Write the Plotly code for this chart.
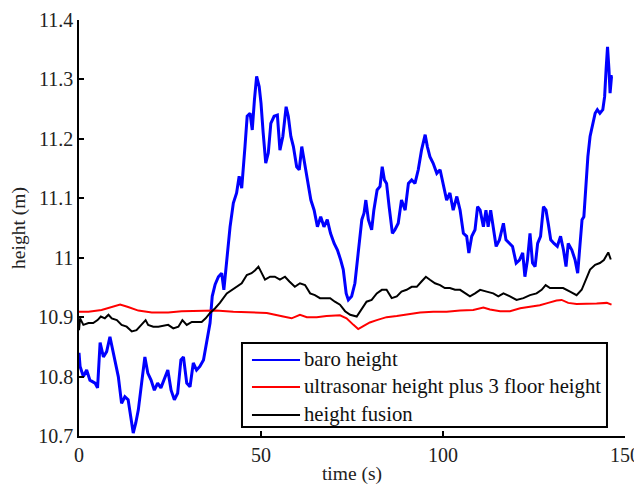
import plotly.graph_objects as go

# ---- data ----
baro_t = [0.0, 0.3, 1.2, 2.1, 3.0, 4.4, 5.1, 5.8, 6.7, 7.6, 8.5, 9.2, 9.9, 10.8, 11.7, 12.6, 13.5, 14.3, 14.9,
          15.6, 16.3, 17.2, 18.1, 18.9, 19.8, 20.7, 21.6, 22.5, 23.4, 24.4, 25.3, 26.2, 27.1, 28.0, 28.7, 29.6,
          30.5, 31.4, 32.3, 33.2, 34.2, 35.1, 36.0, 36.6, 37.4, 38.3, 39.2, 39.8, 40.6, 41.5, 42.4, 43.3, 44.0,
          44.7, 45.6, 46.2, 47.0, 47.6, 48.2, 48.8, 49.5, 50.0, 50.6, 51.3, 52.0, 52.7, 53.6, 54.5, 55.2, 56.0,
          56.9, 57.5, 58.2, 58.9, 59.8, 60.5, 61.2, 61.8, 62.4, 63.0, 63.7, 64.6, 65.5, 66.4, 67.3, 68.2, 69.1,
          70.1, 71.0, 71.9, 72.6, 73.4, 74.0, 74.9, 75.8, 76.7, 77.7, 78.3, 78.8, 79.5, 80.4, 81.0, 81.9, 82.7,
          83.3, 83.9, 84.5, 85.2, 86.1, 86.8, 87.7, 88.6, 89.6, 90.5, 91.4, 92.3, 93.2, 94.1, 95.1, 95.7, 96.4,
          97.3, 98.3, 99.2, 100.1, 101.0, 101.9, 102.8, 103.8, 104.7, 105.6, 106.5, 107.1, 107.9, 108.8, 109.5,
          110.2, 111.1, 111.8, 112.4, 113.1, 113.8, 114.6, 115.5, 116.6, 117.3, 118.2, 119.1, 120.1, 121.0,
          121.9, 122.5, 123.2, 123.9, 124.6, 125.3, 126.0, 126.8, 127.6, 128.3, 128.9, 129.6, 130.5, 131.4,
          132.3, 133.1, 133.8, 134.4, 135.4, 136.3, 137.0, 137.6, 138.2, 138.7, 139.3, 139.8, 140.4, 141.1,
          141.8, 142.4, 143.1, 143.9, 144.4, 144.8, 145.2, 145.6, 145.9, 146.3, 146.6]
baro_h = [10.84, 10.817, 10.80, 10.811, 10.794, 10.789, 10.781, 10.857, 10.833, 10.842, 10.867, 10.845, 10.823,
          10.80, 10.755, 10.766, 10.761, 10.732, 10.705, 10.722, 10.744, 10.789, 10.833, 10.806, 10.794, 10.777,
          10.789, 10.781, 10.794, 10.811, 10.777, 10.761, 10.772, 10.828, 10.833, 10.789, 10.783, 10.823, 10.811,
          10.817, 10.828, 10.857, 10.89, 10.935, 10.955, 10.968, 10.974, 10.946, 11.0, 11.052, 11.092, 11.109,
          11.137, 11.117, 11.187, 11.238, 11.243, 11.215, 11.266, 11.305, 11.288, 11.26, 11.21, 11.159, 11.176,
          11.226, 11.238, 11.24, 11.181, 11.204, 11.254, 11.238, 11.204, 11.187, 11.153, 11.148, 11.187, 11.165,
          11.148, 11.12, 11.097, 11.08, 11.052, 11.069, 11.052, 11.064, 11.041, 11.024, 11.013, 10.996, 10.98,
          10.94, 10.929, 10.935, 10.957, 11.008, 11.064, 11.075, 11.097, 11.064, 11.047, 11.08, 11.114, 11.12,
          11.153, 11.131, 11.125, 11.086, 11.041, 11.047, 11.058, 11.097, 11.08, 11.125, 11.131, 11.125, 11.148,
          11.181, 11.207, 11.187, 11.17, 11.159, 11.142, 11.148, 11.125, 11.097, 11.109, 11.08, 11.103, 11.08,
          11.041, 11.036, 11.008, 11.036, 11.047, 11.086, 11.08, 11.052, 11.08, 11.052, 11.08, 11.052, 11.019,
          11.03, 11.058, 11.03, 11.024, 11.019, 10.991, 10.996, 11.008, 10.968, 10.996, 11.041, 10.991, 10.985,
          11.024, 11.036, 11.086, 11.08, 11.058, 11.03, 11.024, 11.019, 11.036, 11.013, 10.985, 11.024, 11.013,
          10.996, 10.974, 11.019, 11.064, 11.069, 11.131, 11.17, 11.204, 11.221, 11.243, 11.249, 11.243, 11.249,
          11.271, 11.316, 11.355, 11.316, 11.277, 11.305, 11.305]

sonar_t = [0.0, 2.6, 6.2, 9.0, 11.3, 13.5, 16.3, 20.0, 24.5, 28.2, 32.8, 37.6, 42.4, 47.0, 51.6, 56.1, 58.4,
           60.7, 62.6, 65.3, 68.0, 71.7, 73.5, 75.4, 76.7, 78.1, 79.9, 81.8, 84.5, 87.3, 90.0, 93.7, 97.3,
           101.0, 104.7, 108.3, 111.1, 112.9, 115.7, 118.4, 121.2, 123.9, 126.6, 128.9, 131.2, 132.6, 134.4,
           136.7, 139.5, 142.2, 145.0, 146.3]
sonar_h = [10.909, 10.909, 10.912, 10.917, 10.921, 10.917, 10.911, 10.908, 10.908, 10.91, 10.91, 10.911,
           10.909, 10.908, 10.907, 10.901, 10.898, 10.904, 10.9, 10.9, 10.902, 10.903, 10.898, 10.887, 10.88,
           10.885, 10.891, 10.895, 10.9, 10.902, 10.905, 10.908, 10.909, 10.909, 10.911, 10.912, 10.916,
           10.913, 10.91, 10.91, 10.915, 10.918, 10.92, 10.924, 10.928, 10.929, 10.924, 10.922, 10.922,
           10.923, 10.924, 10.921]

fusion_t = [0.0, 0.3, 1.2, 2.6, 3.9, 5.1, 6.0, 7.1, 8.1, 9.0, 10.4, 11.7, 13.1, 14.5, 15.8, 17.2, 18.3, 19.0,
            20.4, 21.8, 23.2, 24.5, 25.9, 27.3, 28.4, 29.6, 31.0, 32.3, 33.7, 34.8, 36.0, 37.4, 38.7, 40.6,
            42.0, 43.3, 44.7, 46.1, 47.4, 48.4, 49.3, 50.2, 51.1, 52.5, 53.8, 55.2, 56.6, 57.8, 59.3, 60.7,
            62.1, 63.5, 64.8, 66.2, 67.6, 69.0, 70.3, 71.7, 73.1, 74.5, 76.3, 77.7, 79.0, 80.4, 81.8, 83.2,
            84.5, 85.9, 87.3, 88.6, 90.0, 91.4, 92.8, 94.1, 95.3, 96.4, 97.8, 99.2, 100.5, 101.9, 103.3, 104.7,
            106.0, 107.4, 108.8, 110.2, 112.0, 113.8, 115.2, 116.6, 118.4, 120.2, 122.1, 123.9, 125.7, 127.1,
            128.2, 129.4, 131.2, 133.0, 134.9, 136.7, 138.1, 139.3, 140.4, 141.8, 143.1, 144.2, 144.8, 145.4,
            146.1]
fusion_h = [10.878, 10.898, 10.887, 10.89, 10.89, 10.895, 10.901, 10.898, 10.904, 10.898, 10.895, 10.887,
            10.884, 10.876, 10.878, 10.887, 10.895, 10.887, 10.884, 10.884, 10.885, 10.887, 10.881, 10.884,
            10.895, 10.887, 10.892, 10.892, 10.892, 10.898, 10.907, 10.915, 10.924, 10.94, 10.946, 10.951,
            10.957, 10.971, 10.974, 10.979, 10.985, 10.974, 10.963, 10.968, 10.968, 10.963, 10.968, 10.96,
            10.951, 10.957, 10.954, 10.94, 10.937, 10.932, 10.932, 10.932, 10.926, 10.921, 10.91, 10.904,
            10.901, 10.915, 10.926, 10.929, 10.94, 10.946, 10.946, 10.932, 10.935, 10.943, 10.946, 10.951,
            10.951, 10.96, 10.968, 10.963, 10.957, 10.954, 10.949, 10.949, 10.946, 10.946, 10.94, 10.935,
            10.94, 10.946, 10.943, 10.94, 10.935, 10.94, 10.935, 10.929, 10.932, 10.937, 10.94, 10.946,
            10.954, 10.949, 10.949, 10.949, 10.943, 10.937, 10.946, 10.963, 10.98, 10.988, 10.991, 10.996,
            11.002, 11.009, 10.997]

names = ["baro height", "ultrasonar height plus 3 floor height", "height fusion"]
colors = ["#0000ff", "#ff0000", "#000000"]

x_ticks = [0, 50, 100, 150]
y_ticks = [10.7, 10.8, 10.9, 11.0, 11.1, 11.2, 11.3, 11.4]

FONT = "Times New Roman, Liberation Serif, Tinos, DejaVu Serif, serif"

fig = go.Figure()
series = [(baro_t, baro_h), (sonar_t, sonar_h), (fusion_t, fusion_h)]
widths = [3, 2, 2]
for (t, h), n, c, w in zip(series, names, colors, widths):
    fig.add_trace(go.Scatter(x=t, y=h, mode="lines", name=n, showlegend=False,
                             line=dict(color=c, width=w)))

# compact boxed legend (paper coordinates of the plot area)
LEG_X0, LEG_X1, LEG_Y0, LEG_Y1 = 0.2985, 0.967, 0.0216, 0.2236
SAMPLE_X0, SAMPLE_X1, TEXT_X = 0.3168, 0.4048, 0.4085
ROW_Y = [0.1827, 0.1178, 0.0505]
shapes = [dict(type="rect", xref="paper", yref="paper", x0=LEG_X0, x1=LEG_X1, y0=LEG_Y0, y1=LEG_Y1,
               line=dict(color="black", width=2), fillcolor="white", layer="above")]
annotations = []
for n, c, w, yy in zip(names, colors, widths, ROW_Y):
    shapes.append(dict(type="line", xref="paper", yref="paper", x0=SAMPLE_X0, x1=SAMPLE_X1, y0=yy, y1=yy,
                       line=dict(color=c, width=2), layer="above"))
    annotations.append(dict(xref="paper", yref="paper", x=TEXT_X, y=yy, text=n, showarrow=False,
                            xanchor="left", yanchor="middle",
                            font=dict(family=FONT, size=20.7, color="#111111")))

# the page body has an 8px margin, so the figure is 8px smaller than the window
fig.update_layout(
    width=634, height=478,
    margin=dict(l=71, r=17, t=12, b=50),
    paper_bgcolor="white", plot_bgcolor="white",
    font=dict(family=FONT, size=20, color="#222222"),
    shapes=shapes, annotations=annotations,
    xaxis=dict(range=[0, 150], tickvals=x_ticks, ticks="inside", ticklen=5, tickwidth=1.5,
               tickcolor="black", showline=True, linecolor="black", linewidth=1.5,
               tickfont=dict(size=20),
               showgrid=False, zeroline=False, mirror=False, automargin=False,
               title=dict(text="time (s)", font=dict(family=FONT, size=19.5), standoff=2)),
    yaxis=dict(range=[10.7, 11.4], tickvals=y_ticks, ticks="inside", ticklen=5, tickwidth=1.5,
               tickcolor="black", showline=True, linecolor="black", linewidth=1.5,
               tickfont=dict(size=20),
               showgrid=False, zeroline=False, mirror=False, automargin=False,
               title=dict(text="height (m)", font=dict(family=FONT, size=19.5), standoff=8)),
)

fig.write_html("out.html")
